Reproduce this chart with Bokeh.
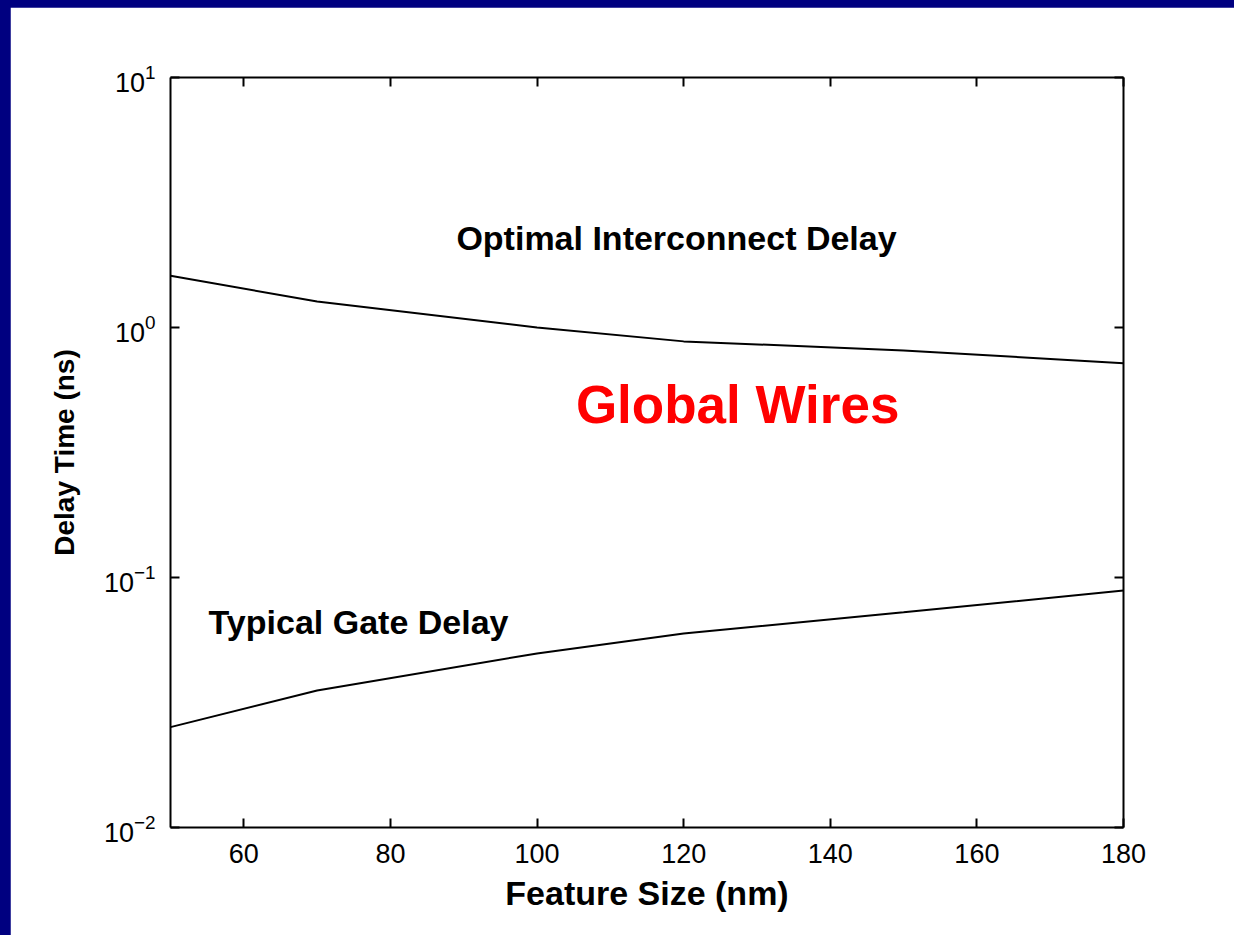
from bokeh.plotting import figure
from bokeh.models import (FixedTicker, LogAxis, LinearAxis, CustomJSTickFormatter,
                          Label, Range1d)
from bokeh.layouts import column
from bokeh.embed import file_html
from bokeh.resources import INLINE

# ---- data ----
feature_size = [50, 70, 100, 120, 150, 180]
interconnect_delay = [1.61, 1.27, 1.0, 0.88, 0.81, 0.72]
gate_delay = [0.0252, 0.0353, 0.0497, 0.0597, 0.0726, 0.0887]
x_ticks = [60, 80, 100, 120, 140, 160, 180]
y_ticks = [0.01, 0.1, 1, 10]

FONT = "Liberation Sans"

p = figure(width=1224, height=928, output_backend="svg", toolbar_location=None,
           y_axis_type="log", x_range=Range1d(50, 180), y_range=Range1d(0.01, 10),
           min_border_left=160, min_border_top=70, min_border_right=111,
           min_border_bottom=108, background_fill_color="white",
           border_fill_color="white", outline_line_color=None)
p.grid.visible = False

def style_axis(ax, labels=True):
    ax.axis_line_width = 2
    ax.axis_line_color = "black"
    ax.major_tick_line_width = 2
    ax.major_tick_line_color = "black"
    ax.major_tick_in = 9
    ax.major_tick_out = 0
    ax.minor_tick_line_color = None
    ax.major_label_text_font = FONT
    ax.major_label_text_font_size = "27px"
    ax.major_label_text_color = "black"
    if not labels:
        ax.formatter = CustomJSTickFormatter(code="return ''")

xa = p.xaxis[0]
ya = p.yaxis[0]
xa.ticker = FixedTicker(ticks=x_ticks)
ya.ticker = FixedTicker(ticks=y_ticks)
style_axis(xa)
style_axis(ya)
xa.major_label_standoff = 16
ya.major_label_standoff = 15
xa.axis_label = "Feature Size (nm)"
ya.axis_label = "Delay Time (ns)"
for ax, size in ((xa, "34px"), (ya, "28px")):
    ax.axis_label_text_font = FONT
    ax.axis_label_text_font_style = "bold"
    ax.axis_label_text_font_size = size
    ax.axis_label_text_color = "black"
xa.axis_label_standoff = 8
ya.axis_label_standoff = 21

top = LinearAxis(ticker=FixedTicker(ticks=x_ticks))
style_axis(top, labels=False)
p.add_layout(top, "above")
right = LogAxis(ticker=FixedTicker(ticks=y_ticks))
style_axis(right, labels=False)
p.add_layout(right, "right")

p.line(feature_size, interconnect_delay, line_color="black", line_width=2)
p.line(feature_size, gate_delay, line_color="black", line_width=2)

p.add_layout(Label(x=89.0, y=2.29, text="Optimal Interconnect Delay",
                   text_font=FONT, text_font_style="bold", text_font_size="34px",
                   text_color="black", text_baseline="alphabetic"))
p.add_layout(Label(x=105.3, y=0.493, text="Global Wires",
                   text_font=FONT, text_font_style="bold", text_font_size="53px",
                   text_color="#FF0000", text_baseline="alphabetic"))
p.add_layout(Label(x=55.2, y=0.0661, text="Typical Gate Delay",
                   text_font=FONT, text_font_style="bold", text_font_size="34px",
                   text_color="black", text_baseline="alphabetic"))

page = column(p, styles={"background-color": "#000080", "padding": "7px 0 0 10px"})
open("out.html", "w").write(file_html(page, INLINE))
